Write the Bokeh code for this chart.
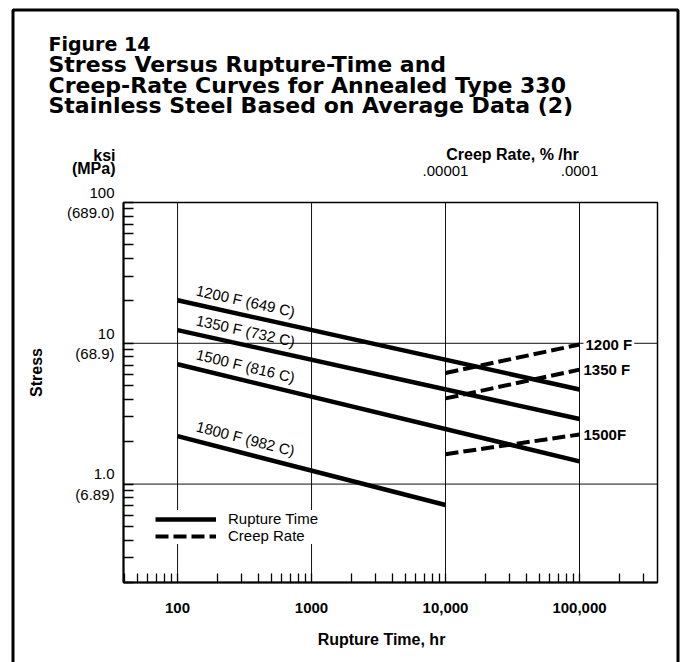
import math
from bokeh.plotting import figure
from bokeh.models import (Range1d, LogScale, LogAxis, Label, Legend, LegendItem,
                          BoxAnnotation, FixedTicker, CustomJSTickFormatter)
from bokeh.embed import file_html
from bokeh.resources import INLINE

# ---------------- data ----------------
rupture_time = [100, 100000]            # hr
rupture_time_1800 = [100, 10000]        # hr
stress_1200 = [20.2, 4.7]               # ksi
stress_1350 = [12.4, 2.9]
stress_1500 = [7.1, 1.45]
stress_1800 = [2.19, 0.71]

creep_rate = [0.00001, 0.0001]          # %/hr (top scale)
creep_stress_1200 = [6.15, 9.8]         # ksi
creep_stress_1350 = [4.06, 6.5]
creep_stress_1500 = [1.63, 2.25]

rupture_labels = ["1200 F (649 C)", "1350 F (732 C)", "1500 F (816 C)", "1800 F (982 C)"]
creep_labels = ["1200 F", "1350 F", "1500F"]
legend_labels = ["Rupture Time", "Creep Rate"]
x_tick_labels = {100: "100", 1000: "1000", 10000: "10,000", 100000: "100,000"}
y_tick_labels = {100: "100\n(689.0)", 10: "10\n(68.9)", 1: "1.0\n(6.89)"}
y_grid_values = [1, 10]

title_lines = ["Stress Versus Rupture-Time and",
               "Creep-Rate Curves for Annealed Type 330",
               "Stainless Steel Based on Average Data (2)"]

# ---------------- layout constants ----------------
FONT = "Liberation Sans"
TITLE_FONT = "DejaVu Sans"
INK = "black"
W, H = 688, 662                 # canvas fills the window (page body has no margin)
PAGE_X0, PAGE_Y0 = 0, 0
CL, CR, CT, CB = 123, 657, 202, 582   # chart box on the page
X0, X1 = 39.5, 382000           # axis extent of the chart box
Y0, Y1 = 0.2, 100

PXX = (CR - CL) / math.log10(X1 / X0)
PXY = (CB - CT) / math.log10(Y1 / Y0)
fx0 = 10 ** (math.log10(X0) - (CL - PAGE_X0) / PXX)
fx1 = 10 ** (math.log10(X1) + (PAGE_X0 + W - CR) / PXX)
fy0 = 10 ** (math.log10(Y0) - (PAGE_Y0 + H - CB) / PXY)
fy1 = 10 ** (math.log10(Y1) + (CT - PAGE_Y0) / PXY)

p = figure(width=W, height=H, x_axis_type="log", y_axis_type="log",
           x_range=Range1d(fx0, fx1), y_range=Range1d(fy0, fy1),
           extra_x_ranges={"creep": Range1d(fx0 * 1e-9, fx1 * 1e-9)},
           extra_x_scales={"creep": LogScale()},
           output_backend="svg", toolbar_location=None, min_border=0)
p.background_fill_color = "white"
p.border_fill_color = "white"
p.outline_line_color = None
p.xgrid.visible = False
p.ygrid.visible = False

# ---------------- grid lines at the major decades (inside the chart box) ----------------
xg = list(x_tick_labels)
p.segment(x0=xg, y0=[Y0] * len(xg), x1=xg, y1=[Y1] * len(xg), line_color="#111111", line_width=1)
p.segment(x0=[X0] * len(y_grid_values), y0=y_grid_values, x1=[X1] * len(y_grid_values),
          y1=y_grid_values, line_color="#111111", line_width=1)

# chart box (top and right edges)
p.add_layout(BoxAnnotation(left=X0, right=X1, bottom=Y0, top=Y1, fill_color=None,
                           line_color=INK, line_alpha=1.0, line_width=1.5, level="underlay"))

# bottom axis
xa = p.xaxis[0]
xa.fixed_location = Y0
xa.bounds = (X0, X1)
xa.axis_line_width = 2
xa.axis_line_color = INK
xa.major_tick_in = 0
xa.major_tick_out = 0
xa.minor_tick_in = 9
xa.minor_tick_out = 0
xa.minor_tick_line_width = 1.3
xa.minor_tick_line_color = INK
xa.major_label_overrides = x_tick_labels
xa.major_label_text_font = FONT
xa.major_label_text_font_style = "bold"
xa.major_label_text_font_size = "15px"
xa.major_label_text_color = INK
xa.major_label_standoff = 20

# left axis
ya = p.yaxis[0]
ya.fixed_location = X0
ya.bounds = (Y0, Y1)
ya.axis_line_width = 2
ya.axis_line_color = INK
ya.major_tick_in = 0
ya.major_tick_out = 0
ya.minor_tick_in = 10
ya.minor_tick_out = 0
ya.minor_tick_line_width = 1.3
ya.minor_tick_line_color = INK
ya.major_label_overrides = y_tick_labels
ya.major_label_text_font = FONT
ya.major_label_text_font_size = "15px"
ya.major_label_text_color = INK
ya.major_label_text_align = "right"
ya.major_label_standoff = 9

# top creep-rate axis
ta = LogAxis(x_range_name="creep", fixed_location=Y1,
             ticker=FixedTicker(ticks=creep_rate, minor_ticks=[]),
             formatter=CustomJSTickFormatter(code="""
                 const d = Math.max(0, -Math.round(Math.log10(tick)));
                 return tick.toFixed(d).replace(/^0/, '');"""))
ta.axis_line_color = None
ta.major_tick_line_color = None
ta.minor_tick_line_color = None
ta.major_label_text_font = FONT
ta.major_label_text_font_size = "15px"
ta.major_label_text_color = INK
ta.major_label_standoff = 21
p.add_layout(ta, "above")

# ---------------- curves ----------------
SOLID_W = 4.5
DASH_W = 4
DASH = "13 5"
r1200 = p.line(rupture_time, stress_1200, line_color=INK, line_width=SOLID_W)
p.line(rupture_time, stress_1350, line_color=INK, line_width=SOLID_W)
p.line(rupture_time, stress_1500, line_color=INK, line_width=SOLID_W)
p.line(rupture_time_1800, stress_1800, line_color=INK, line_width=SOLID_W)

c1200 = p.line(creep_rate, creep_stress_1200, x_range_name="creep", line_color=INK,
               line_width=DASH_W, line_dash=DASH)
p.line(creep_rate, creep_stress_1350, x_range_name="creep", line_color=INK,
       line_width=DASH_W, line_dash=DASH)
p.line(creep_rate, creep_stress_1500, x_range_name="creep", line_color=INK,
       line_width=DASH_W, line_dash=DASH)

# rupture curve labels, rotated along the lines (sitting just above each line)
for lab, xs, ys in zip(rupture_labels,
                       [rupture_time, rupture_time, rupture_time, rupture_time_1800],
                       [stress_1200, stress_1350, stress_1500, stress_1800]):
    slope = (math.log10(ys[0]) - math.log10(ys[1])) / (math.log10(xs[1]) - math.log10(xs[0]))
    ang = -math.atan(slope * PXY / PXX)
    p.add_layout(Label(x=xs[0], y=ys[0], x_offset=17, y_offset=2, angle=ang,
                       text=lab, text_font=FONT, text_font_size="15px", text_color=INK,
                       text_baseline="bottom", text_align="left"))

# creep curve labels at right end
for i, (lab, ys) in enumerate(zip(creep_labels,
                                  [creep_stress_1200, creep_stress_1350, creep_stress_1500])):
    kw = dict(background_fill_color="white", padding=2) if i == 0 else {}
    p.add_layout(Label(x=creep_rate[1], y=ys[1], x_range_name="creep", x_offset=4,
                       text=lab, text_font=FONT, text_font_size="15px", text_color=INK,
                       text_font_style="bold", text_baseline="middle", text_align="left", **kw))

# legend
p.add_layout(Legend(items=[LegendItem(label=legend_labels[0], renderers=[r1200]),
                           LegendItem(label=legend_labels[1], renderers=[c1200])],
                    location=(155, 118), glyph_width=61, glyph_height=14,
                    label_height=14, label_standoff=12, spacing=0, padding=2, margin=0,
                    background_fill_color="white", background_fill_alpha=1,
                    border_line_color=None, label_text_color=INK,
                    label_text_font=FONT, label_text_font_size="15px"))

# ---------------- free texts (screen units: canvas == frame, y from bottom) ----------------
def sx(px):
    return px - PAGE_X0

def sy(py):
    return (PAGE_Y0 + H) - py

def txt(px, py, text, size, bold=False, align="left", baseline="middle", angle=0.0,
        font=FONT):
    p.add_layout(Label(x=sx(px), y=sy(py), x_units="screen", y_units="screen", text=text,
                       text_font=font, text_font_size=size, text_color=INK,
                       text_font_style="bold" if bold else "normal",
                       text_align=align, text_baseline=baseline, angle=angle))

txt(48, 43, "Figure 14", "19px", bold=True, baseline="alphabetic", font=TITLE_FONT)
for k, line in enumerate(title_lines):
    txt(48, 64 + 20.5 * k, line, "22px", bold=True, baseline="alphabetic", font=TITLE_FONT)

txt(115, 155, "ksi", "16px", bold=True, align="right")
txt(115, 168, "(MPa)", "16px", bold=True, align="right")
txt(36, 372, "Stress", "16px", bold=True, align="center", angle=math.pi / 2)
txt(512, 154, "Creep Rate, % /hr", "16px", bold=True, align="center")
txt(381, 639, "Rupture Time, hr", "16px", bold=True, align="center")

# outer frame (open at the bottom edge of the page)
p.add_layout(BoxAnnotation(left=sx(12.5), right=sx(677.5), top=sy(9.5), bottom=sy(700),
                           left_units="screen", right_units="screen",
                           top_units="screen", bottom_units="screen",
                           fill_color=None, line_color=INK, line_alpha=1.0, line_width=3))

open("out.html", "w").write(file_html(p, INLINE))
